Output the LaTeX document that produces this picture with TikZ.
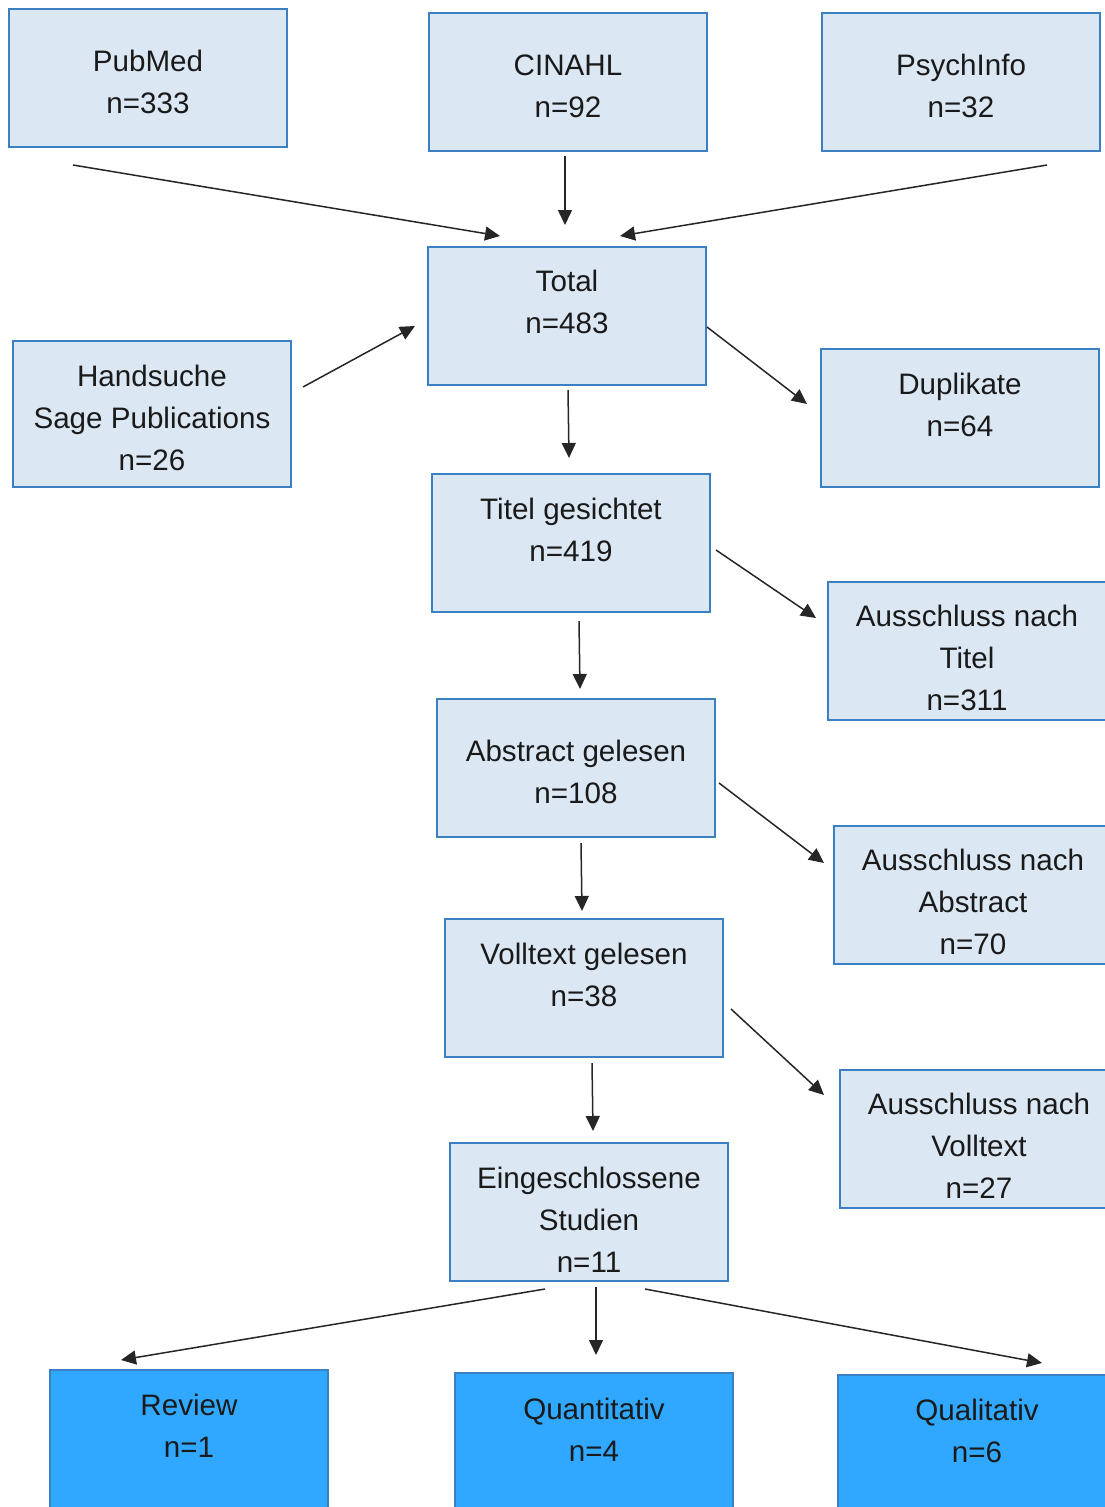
\documentclass[tikz,border=0pt]{standalone}
\usepackage{fontspec}
\setmainfont{Liberation Sans}
\usetikzlibrary{arrows.meta}
\definecolor{boxfill}{HTML}{DCE7F4}
\definecolor{boxline}{HTML}{3A80C2}
\definecolor{darkfill}{HTML}{31A8FF}
\definecolor{txtcol}{HTML}{1A1A1A}
\definecolor{arrcol}{HTML}{262626}
\tikzset{
  box/.style={draw=boxline, line width=2.5pt, fill=boxfill, minimum width=278pt, minimum height=138pt, inner sep=0pt},
  darkbox/.style={box, fill=darkfill},
  lbl/.style={align=center, text=txtcol, inner sep=0pt, font=\fontsize{29.6}{42}\selectfont},
  arr/.style={draw=arrcol, line width=1.5pt, -{Triangle[length=15pt,width=14pt]}}
}
\begin{document}
\begin{tikzpicture}[x=1pt,y=-1pt]
\useasboundingbox (0,0) rectangle (1105,1507);
\clip (0,0) rectangle (1105,1507);
% boxes
\node[box] (pub) at (148,78) {};
\node[lbl] (pubT) at (148,82) {PubMed\\n=333};
\node[box] (cin) at (568,82) {};
\node[lbl] (cinT) at (568,86) {CINAHL\\n=92};
\node[box] (psy) at (961,82) {};
\node[lbl] (psyT) at (961,86) {PsychInfo\\n=32};
\node[box] (tot) at (567,316) {};
\node[lbl] (totT) at (567,302) {Total\\n=483};
\node[box, minimum height=146pt] (hand) at (152,414) {};
\node[lbl] (handT) at (152,418) {Handsuche\\Sage Publications\\n=26};
\node[box] (dup) at (960,418) {};
\node[lbl] (dupT) at (960,405) {Duplikate\\n=64};
\node[box] (tit) at (571,543) {};
\node[lbl] (titT) at (571,530) {Titel gesichtet\\n=419};
\node[box] (ausT) at (967,651) {};
\node[lbl] (ausTT) at (967,658) {Ausschluss nach\\Titel\\n=311};
\node[box] (abs) at (576,768) {};
\node[lbl] (absT) at (576,772) {Abstract gelesen\\n=108};
\node[box] (ausA) at (973,895) {};
\node[lbl] (ausAT) at (973,902) {Ausschluss nach\\Abstract\\n=70};
\node[box] (vol) at (584,988) {};
\node[lbl] (volT) at (584,975) {Volltext gelesen\\n=38};
\node[box] (ausV) at (979,1139) {};
\node[lbl] (ausVT) at (979,1146) {Ausschluss nach\\Volltext\\n=27};
\node[box] (ein) at (589,1212) {};
\node[lbl] (einT) at (589,1220) {Eingeschlossene\\Studien\\n=11};
\node[darkbox] (rev) at (189,1439) {};
\node[lbl] (revT) at (189,1426) {Review\\n=1};
\node[darkbox] (qn) at (594,1442) {};
\node[lbl] (qnT) at (594,1430) {Quantitativ\\n=4};
\node[darkbox] (ql) at (977,1444) {};
\node[lbl] (qlT) at (977,1431) {Qualitativ\\n=6};
% arrow end points
\coordinate (a1s) at (73,165);   \coordinate (a1e) at (500,236);
\coordinate (a2s) at (565,156);  \coordinate (a2e) at (565,225);
\coordinate (a3s) at (1047,165); \coordinate (a3e) at (620,236);
\coordinate (a4s) at (303,387);  \coordinate (a4e) at (415,326);
\coordinate (a5s) at (707,327);  \coordinate (a5e) at (807,404);
\coordinate (a6s) at (568,390);  \coordinate (a6e) at (569,458);
\coordinate (a7s) at (716,550);  \coordinate (a7e) at (816,618);
\coordinate (a8s) at (579,621);  \coordinate (a8e) at (580,689);
\coordinate (a9s) at (719,783);  \coordinate (a9e) at (824,863);
\coordinate (a10s) at (581,843); \coordinate (a10e) at (582,911);
\coordinate (a11s) at (731,1009);\coordinate (a11e) at (824,1095);
\coordinate (a12s) at (592,1063);\coordinate (a12e) at (593,1131);
\coordinate (a13s) at (545,1289);\coordinate (a13e) at (121,1360);
\coordinate (a14s) at (596,1287);\coordinate (a14e) at (596,1355);
\coordinate (a15s) at (645,1289);\coordinate (a15e) at (1042,1363);
% connectors
\draw[arr] (a1s) -- (a1e);
\draw[arr] (a2s) -- (a2e);
\draw[arr] (a3s) -- (a3e);
\draw[arr] (a4s) -- (a4e);
\draw[arr] (a5s) -- (a5e);
\draw[arr] (a6s) -- (a6e);
\draw[arr] (a7s) -- (a7e);
\draw[arr] (a8s) -- (a8e);
\draw[arr] (a9s) -- (a9e);
\draw[arr] (a10s) -- (a10e);
\draw[arr] (a11s) -- (a11e);
\draw[arr] (a12s) -- (a12e);
\draw[arr] (a13s) -- (a13e);
\draw[arr] (a14s) -- (a14e);
\draw[arr] (a15s) -- (a15e);
\end{tikzpicture}
\end{document}
